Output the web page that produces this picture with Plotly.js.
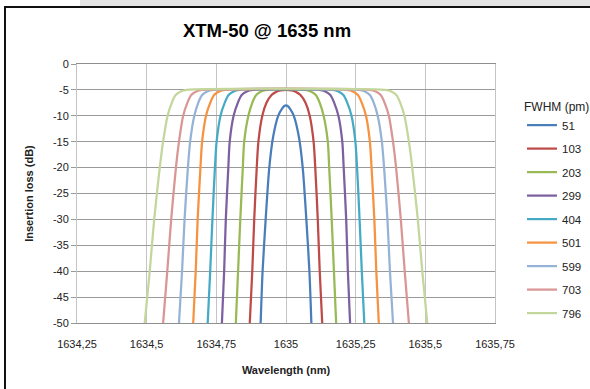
<!DOCTYPE html>
<html><head><meta charset="utf-8">
<script src="https://cdn.plot.ly/plotly-3.0.1.min.js"></script>
<style>
html,body{margin:0;padding:0;background:#fff;width:590px;height:389px;overflow:hidden;}
#wrap{position:absolute;left:0;top:0;width:590px;height:389px;overflow:hidden;}
#chart{position:absolute;left:0;top:0;width:640px;height:389px;}
.strip{position:absolute;left:80px;top:0;width:510px;height:6px;background:#e4e4e4;}
.btop{position:absolute;left:4px;top:6px;width:586px;height:2px;background:#111;}
.bleft{position:absolute;left:4px;top:6px;width:2px;height:383px;background:#111;}
</style></head><body>
<div id="wrap"><div id="chart"></div></div>
<div class="strip"></div><div class="btop"></div><div class="bleft"></div>
<script>
// Series names (FWHM in pm)
const seriesNames = ["51","103","203","299","404","501","599","703","796"];
const seriesColors = ["#4A7EBB","#BE4B48","#98B954","#7D60A0","#46AAC5","#F69240","#95B3D7","#D99694","#C3D69B"];

// Wavelength (nm) and insertion loss (dB)
const wl51 = [1634.909,1634.916,1634.927,1634.940,1634.954,1634.972,1634.986,1634.994,1635.000,1635.006,1635.014,1635.028,1635.046,1635.060,1635.073,1635.084,1635.091];
const il51 = [-50,-40,-30,-20,-14,-10,-8.6,-8.1,-8,-8.1,-8.6,-10,-14,-20,-30,-40,-50];

const wl103 = [1634.870,1634.879,1634.886,1634.895,1634.901,1634.915,1634.930,1634.948,1634.964,1634.980,1635.000,1635.020,1635.036,1635.052,1635.070,1635.085,1635.099,1635.105,1635.114,1635.121,1635.130];
const il103 = [-50,-40,-30,-20,-15,-10,-7.5,-6,-5.4,-5.1,-5,-5.1,-5.4,-6,-7.5,-10,-15,-20,-30,-40,-50];

const ilWide = [-50,-40,-30,-20,-15,-10,-7.5,-6,-5.3,-5,-5,-5.3,-6,-7.5,-10,-15,-20,-30,-40,-50];

const wl203 = [1634.820,1634.828,1634.836,1634.845,1634.850,1634.865,1634.879,1634.893,1634.911,1634.933,1635.067,1635.089,1635.107,1635.121,1635.135,1635.150,1635.155,1635.164,1635.172,1635.180];
const il203 = ilWide;
const wl299 = [1634.770,1634.778,1634.784,1634.793,1634.798,1634.812,1634.827,1634.841,1634.859,1634.881,1635.119,1635.141,1635.159,1635.173,1635.188,1635.202,1635.207,1635.216,1635.222,1635.230];
const il299 = ilWide;
const wl404 = [1634.719,1634.728,1634.736,1634.745,1634.751,1634.765,1634.780,1634.794,1634.812,1634.833,1635.167,1635.188,1635.206,1635.220,1635.235,1635.249,1635.255,1635.264,1635.272,1635.281];
const il404 = ilWide;
const wl501 = [1634.667,1634.676,1634.683,1634.693,1634.699,1634.713,1634.728,1634.742,1634.760,1634.781,1635.219,1635.240,1635.258,1635.272,1635.287,1635.301,1635.307,1635.317,1635.324,1635.333];
const il501 = ilWide;
const wl599 = [1634.616,1634.627,1634.636,1634.648,1634.656,1634.671,1634.685,1634.699,1634.717,1634.739,1635.261,1635.283,1635.301,1635.315,1635.329,1635.344,1635.352,1635.364,1635.373,1635.384];
const il599 = ilWide;
const wl703 = [1634.559,1634.574,1634.588,1634.605,1634.616,1634.631,1634.646,1634.660,1634.678,1634.700,1635.300,1635.322,1635.340,1635.354,1635.369,1635.384,1635.395,1635.412,1635.426,1635.441];
const il703 = ilWide;
const wl796 = [1634.493,1634.511,1634.527,1634.547,1634.559,1634.575,1634.590,1634.604,1634.622,1634.644,1635.356,1635.378,1635.396,1635.410,1635.425,1635.441,1635.453,1635.473,1635.489,1635.507];
const il796 = ilWide;

// Axis ticks
const xTickVals = [1634.25,1634.5,1634.75,1635,1635.25,1635.5,1635.75];
const xTickText = ["1634,25","1634,5","1634,75","1635","1635,25","1635,5","1635,75"];
const yTickVals = [0,-5,-10,-15,-20,-25,-30,-35,-40,-45,-50];
const yTickText = ["0","-5","-10","-15","-20","-25","-30","-35","-40","-45","-50"];

const xs = [wl51,wl103,wl203,wl299,wl404,wl501,wl599,wl703,wl796];
const ys = [il51,il103,il203,il299,il404,il501,il599,il703,il796];

const traces = seriesNames.map((n,i)=>({
  type:"scatter", mode:"lines", name:n, x:xs[i], y:ys[i],
  legendgroup:"g"+i,
  line:{color:seriesColors[i], width:2.25, shape:"spline", smoothing:0.7}
}));

const W = 640, H = 389;
const FONT = "Liberation Sans, Arial, sans-serif";
const layout = {
  width:W, height:H,
  margin:{l:77, r:W-495, t:64, b:66, autoexpand:false},
  paper_bgcolor:"#fff", plot_bgcolor:"#fff",
  font:{family:FONT, size:11, color:"#333"},
  showlegend:true,
  title:{text:"XTM-50 @ 1635 nm", font:{family:FONT, size:18.5, color:"#000", weight:"bold"},
         x:267/W, xref:"container", xanchor:"center", y:1-31/H, yref:"container", yanchor:"middle"},
  xaxis:{range:[1634.25,1635.75], tickvals:xTickVals, ticktext:xTickText,
         showgrid:true, gridcolor:"#c4c4c4", gridwidth:1,
         showline:true, linecolor:"#8f8f8f", linewidth:1, mirror:true,
         zeroline:false, ticks:"", ticklabelstandoff:11,
         tickfont:{family:FONT, size:11, color:"#222"},
         title:{text:"Wavelength (nm)", font:{family:FONT, size:11, color:"#222", weight:"bold"}, standoff:17}},
  yaxis:{range:[-50,0], tickvals:yTickVals, ticktext:yTickText,
         showgrid:true, gridcolor:"#9a9a9a", gridwidth:1,
         showline:true, linecolor:"#c4c4c4", linewidth:1, mirror:true,
         zeroline:false, ticks:"outside", ticklen:5, tickcolor:"#9a9a9a",
         tickfont:{family:FONT, size:11, color:"#222"},
         title:{text:"Insertion loss (dB)", font:{family:FONT, size:11, color:"#222", weight:"bold"}, standoff:17}},
  legend:{x:(522-77)/418, xanchor:"left", y:(323-95)/259, yanchor:"top",
          bgcolor:"rgba(0,0,0,0)", borderwidth:0, tracegroupgap:4.5,
          font:{family:FONT, size:11.5, color:"#222"},
          title:{text:"FWHM (pm)", font:{family:FONT, size:12, color:"#222"}}}
};
Plotly.newPlot("chart", traces, layout, {displayModeBar:false, staticPlot:true});
</script></body></html>
